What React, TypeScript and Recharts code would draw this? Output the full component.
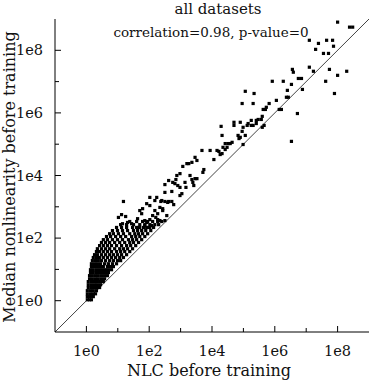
import { ScatterChart, Scatter, XAxis, YAxis, ReferenceLine } from 'recharts';

// log10 values: [NLC before training, median nonlinearity before training]
const spreadLog: [number, number][] = [
  [8.0, 8.9], [8.38, 8.74], [8.48, 8.74], [7.1, 8.32], [7.39, 8.22], [7.65, 8.32], [7.84, 8.32],
  [7.87, 8.13], [7.3, 8.03], [7.55, 7.9], [7.71, 7.9], [6.56, 7.39], [6.59, 7.3], [7.1, 7.46],
  [7.23, 7.33], [7.74, 7.39], [8.29, 7.33], [8.0, 7.2], [6.75, 7.1], [6.85, 7.1], [5.92, 7.01],
  [6.27, 7.01], [6.53, 6.91], [7.62, 7.01], [5.06, 6.69], [5.34, 6.62], [6.4, 6.72], [6.88, 6.75],
  [7.9, 6.62], [6.37, 6.5], [6.43, 6.5], [6.05, 6.4], [4.96, 6.3], [5.31, 6.3], [5.82, 6.3],
  [5.73, 6.18], [5.63, 6.11], [5.7, 6.11], [6.14, 6.11], [6.21, 6.11], [6.72, 5.98], [6.53, 5.09],
  [4.7, 5.7], [4.7, 5.6], [4.9, 5.7], [4.99, 5.54], [5.15, 5.66], [5.25, 5.76], [5.12, 5.6],
  [5.25, 5.6], [5.31, 5.6], [5.41, 5.76], [5.41, 5.66], [5.47, 5.79], [5.57, 5.79], [5.6, 5.89],
  [5.6, 5.54], [5.66, 5.6], [4.29, 5.57], [4.32, 5.28], [4.83, 5.28], [4.9, 5.22], [4.96, 5.41],
  [5.06, 5.28], [4.99, 4.99], [4.86, 5.18], [4.42, 5.02], [4.51, 5.02], [4.58, 5.02], [4.64, 5.06],
  [4.35, 4.9], [4.48, 4.9], [4.42, 4.83], [4.22, 4.77], [4.32, 4.7], [4.26, 4.67], [4.16, 4.8],
  [4.06, 4.51], [3.94, 4.8], [3.68, 4.8], [3.46, 4.58], [3.52, 4.48], [3.36, 4.42], [3.2, 4.38],
  [3.26, 4.38], [3.74, 4.19], [3.71, 4.1], [3.3, 4.0], [3.46, 3.9], [3.52, 3.9], [3.36, 3.87],
  [3.39, 3.78], [3.42, 3.68], [3.14, 3.78], [3.17, 3.62], [3.07, 4.29], [2.98, 4.06], [2.88, 4.0],
  [2.85, 3.87], [2.75, 3.78], [2.82, 3.74], [2.91, 3.68], [2.98, 3.62], [3.04, 3.42], [2.5, 3.46],
  [2.98, 3.36], [2.24, 3.3], [2.18, 3.2], [2.02, 3.3], [2.72, 3.17], [2.62, 3.17], [2.5, 3.17],
  [2.37, 3.17], [2.78, 3.07], [2.34, 2.98], [2.43, 2.94], [2.18, 2.88], [1.92, 3.1], [2.02, 3.04],
  [1.79, 2.94], [1.76, 2.78], [2.27, 2.78], [2.11, 2.72], [2.21, 2.66], [2.27, 2.59], [2.02, 2.59],
  [1.92, 2.5], [1.86, 2.4], [1.92, 2.34], [2.02, 2.34], [2.08, 2.4], [1.7, 2.34],
  [1.18, 3.17], [1.12, 2.75], [1.02, 2.66], [1.25, 2.69], [1.15, 2.46], [1.31, 2.5], [1.44, 2.46],
  [1.6, 2.34], [1.63, 2.62], [1.7, 2.88], [1.86, 2.56], [2.4, 3.2], [2.59, 3.14], [2.43, 2.88],
  [2.56, 2.72], [2.34, 2.56], [2.5, 2.56], [2.5, 3.71], [2.62, 3.84], [2.72, 3.49],
];

// the dense bunch just above NLC = 1, read row by row
const clusterLog: [number, number][] = [
  [0.03, 0.03], [0.1, 0.03], [0.16, 0.03],
  [0.03, 0.13], [0.1, 0.13], [0.16, 0.13], [0.22, 0.13],
  [0.03, 0.22], [0.13, 0.22], [0.22, 0.22], [0.29, 0.22],
  [0.03, 0.32], [0.13, 0.32], [0.22, 0.32], [0.32, 0.32],
  [0.06, 0.42], [0.16, 0.42], [0.26, 0.42], [0.35, 0.42], [0.42, 0.42],
  [0.06, 0.51], [0.16, 0.51], [0.26, 0.51], [0.35, 0.51], [0.45, 0.51],
  [0.06, 0.61], [0.16, 0.61], [0.26, 0.61], [0.35, 0.61], [0.45, 0.61], [0.54, 0.61],
  [0.1, 0.7], [0.19, 0.7], [0.29, 0.7], [0.38, 0.7], [0.48, 0.7], [0.58, 0.7],
  [0.1, 0.8], [0.19, 0.8], [0.29, 0.8], [0.38, 0.8], [0.48, 0.8], [0.58, 0.8], [0.67, 0.8],
  [0.13, 0.9], [0.22, 0.9], [0.32, 0.9], [0.42, 0.9], [0.51, 0.9], [0.61, 0.9], [0.7, 0.9],
  [0.13, 0.99], [0.22, 0.99], [0.32, 0.99], [0.42, 0.99], [0.51, 0.99], [0.61, 0.99], [0.7, 0.99], [0.8, 0.99],
  [0.16, 1.09], [0.26, 1.09], [0.35, 1.09], [0.45, 1.09], [0.54, 1.09], [0.67, 1.09], [0.77, 1.09], [0.86, 1.09],
  [0.16, 1.18], [0.26, 1.18], [0.35, 1.18], [0.45, 1.18], [0.58, 1.18], [0.7, 1.18], [0.83, 1.18], [0.96, 1.18],
  [0.19, 1.28], [0.29, 1.28], [0.38, 1.28], [0.48, 1.28], [0.61, 1.28], [0.74, 1.28], [0.86, 1.28], [0.99, 1.28], [1.09, 1.28],
  [0.22, 1.38], [0.32, 1.38], [0.42, 1.38], [0.54, 1.38], [0.67, 1.38], [0.8, 1.38], [0.93, 1.38], [1.06, 1.38], [1.18, 1.38],
  [0.26, 1.47], [0.35, 1.47], [0.48, 1.47], [0.61, 1.47], [0.74, 1.47], [0.86, 1.47], [0.99, 1.47], [1.12, 1.47], [1.28, 1.47],
  [0.32, 1.57], [0.42, 1.57], [0.54, 1.57], [0.67, 1.57], [0.8, 1.57], [0.96, 1.57], [1.09, 1.57], [1.22, 1.57], [1.38, 1.57],
  [0.35, 1.66], [0.48, 1.66], [0.61, 1.66], [0.74, 1.66], [0.9, 1.66], [1.06, 1.66], [1.18, 1.66], [1.31, 1.66], [1.47, 1.66],
  [0.42, 1.76], [0.54, 1.76], [0.67, 1.76], [0.8, 1.76], [0.96, 1.76], [1.12, 1.76], [1.28, 1.76], [1.41, 1.76], [1.57, 1.76],
  [0.48, 1.86], [0.61, 1.86], [0.74, 1.86], [0.9, 1.86], [1.06, 1.86], [1.22, 1.86], [1.38, 1.86], [1.5, 1.86], [1.66, 1.86],
  [0.54, 1.95], [0.67, 1.95], [0.83, 1.95], [0.99, 1.95], [1.15, 1.95], [1.34, 1.95], [1.47, 1.95], [1.6, 1.95], [1.76, 1.95],
  [0.64, 2.05], [0.77, 2.05], [0.93, 2.05], [1.09, 2.05], [1.25, 2.05], [1.44, 2.05], [1.57, 2.05], [1.7, 2.05], [1.86, 2.05],
  [0.74, 2.14], [0.86, 2.14], [1.02, 2.14], [1.18, 2.14], [1.38, 2.14], [1.54, 2.14], [1.66, 2.14], [1.79, 2.14], [1.95, 2.14],
  [0.83, 2.24], [0.99, 2.24], [1.15, 2.24], [1.31, 2.24], [1.5, 2.24], [1.63, 2.24], [1.76, 2.24], [1.89, 2.24], [2.05, 2.24],
  [0.96, 2.34], [1.12, 2.34], [1.28, 2.34], [1.47, 2.34], [1.66, 2.34], [1.82, 2.34], [1.98, 2.34], [2.14, 2.34],
  [1.09, 2.43], [1.28, 2.43], [1.5, 2.43], [1.7, 2.43], [1.86, 2.43], [2.02, 2.43], [2.18, 2.43], [2.3, 2.43],
  [1.38, 2.53], [1.6, 2.53], [1.79, 2.53], [1.95, 2.53], [2.11, 2.53], [2.27, 2.53], [2.4, 2.53],
];

const decadeTicks = [1, 10, 100, 1e3, 1e4, 1e5, 1e6, 1e7, 1e8];
const axisDomain: [number, number] = [0.1, 1e9];

const title = 'all datasets';
const statsNote = 'correlation=0.98, p-value=0';
const xTitle = 'NLC before training';
const yTitle = 'Median nonlinearity before training';

const points = [...clusterLog, ...spreadLog].map(([nx, ny]) => ({
  nlc: Math.pow(10, nx),
  median: Math.pow(10, ny),
}));

const FONT = '"DejaVu Serif", serif';
const INK = '#111';
const LEFT = 55;
const TOP = 19;
const RIGHT = 369;
const BOTTOM = 332;

const expOf = (v: number) => Math.round(Math.log10(v));
const tickLen = (v: number) => (expOf(v) % 2 === 0 ? 6 : 4);

const BottomTick = (p: any) => {
  const e = expOf(p.payload.value);
  return (
    <g>
      <line x1={p.x} x2={p.x} y1={BOTTOM} y2={BOTTOM - tickLen(p.payload.value)} stroke="#000" />
      {e % 2 === 0 && (
        <text x={p.x} y={356} textAnchor="middle" fontSize={14.5} fontFamily={FONT} fill={INK}>
          {`1e${e}`}
        </text>
      )}
    </g>
  );
};

const TopTick = (p: any) => (
  <line x1={p.x} x2={p.x} y1={TOP} y2={TOP + tickLen(p.payload.value)} stroke="#000" />
);

const LeftTick = (p: any) => {
  const e = expOf(p.payload.value);
  return (
    <g>
      <line x1={LEFT} x2={LEFT + tickLen(p.payload.value)} y1={p.y} y2={p.y} stroke="#000" />
      {e % 2 === 0 && (
        <text x={43} y={p.y} dy={5} textAnchor="end" fontSize={14.5} fontFamily={FONT} fill={INK}>
          {`1e${e}`}
        </text>
      )}
    </g>
  );
};

const RightTick = (p: any) => (
  <line x1={RIGHT} x2={RIGHT - tickLen(p.payload.value)} y1={p.y} y2={p.y} stroke="#000" />
);

const Dot = (p: any) => <rect x={p.cx - 1.6} y={p.cy - 1.6} width={3.2} height={3.2} fill="#000" />;

export default function App() {
  return (
    <div style={{ position: 'absolute', left: 0, top: 0, width: 370, height: 380, background: '#fff' }}>
      <ScatterChart width={370} height={380} margin={{ top: TOP, right: 370 - RIGHT, bottom: 0, left: 0 }}>
        <XAxis
          xAxisId="b"
          dataKey="nlc"
          type="number"
          scale="log"
          domain={axisDomain}
          allowDataOverflow
          ticks={decadeTicks}
          interval={0}
          height={380 - BOTTOM}
          tickLine={false}
          axisLine={{ stroke: '#000' }}
          tick={BottomTick}
        />
        <XAxis
          xAxisId="t"
          orientation="top"
          type="number"
          scale="log"
          domain={axisDomain}
          allowDataOverflow
          ticks={decadeTicks}
          interval={0}
          height={0}
          tickLine={false}
          axisLine={{ stroke: '#000' }}
          tick={TopTick}
        />
        <YAxis
          yAxisId="l"
          dataKey="median"
          type="number"
          scale="log"
          domain={axisDomain}
          allowDataOverflow
          ticks={decadeTicks}
          interval={0}
          width={LEFT}
          tickLine={false}
          axisLine={{ stroke: '#000' }}
          tick={LeftTick}
        />
        <YAxis
          yAxisId="r"
          orientation="right"
          type="number"
          scale="log"
          domain={axisDomain}
          allowDataOverflow
          ticks={decadeTicks}
          interval={0}
          width={0}
          tickLine={false}
          axisLine={{ stroke: '#000' }}
          tick={RightTick}
        />
        <ReferenceLine
          xAxisId="b"
          yAxisId="l"
          segment={[{ x: 0.1, y: 0.1 }, { x: 1e9, y: 1e9 }]}
          stroke="#444"
          strokeWidth={1}
        />
        <Scatter xAxisId="b" yAxisId="l" data={points} shape={Dot} isAnimationActive={false} />
      </ScatterChart>
      <svg width={370} height={380} style={{ position: 'absolute', left: 0, top: 0, pointerEvents: 'none' }}>
        <text x={218} y={14} textAnchor="middle" fontSize={15} fontFamily={FONT} fill={INK}>{title}</text>
        <text x={211} y={37} textAnchor="middle" fontSize={13.5} fontFamily={FONT} fill={INK}>{statsNote}</text>
        <text x={209} y={376} textAnchor="middle" fontSize={16} fontFamily={FONT} fill={INK}>{xTitle}</text>
        <text transform="translate(15,177) rotate(-90)" textAnchor="middle" fontSize={16} fontFamily={FONT} fill={INK}>
          {yTitle}
        </text>
      </svg>
    </div>
  );
}
